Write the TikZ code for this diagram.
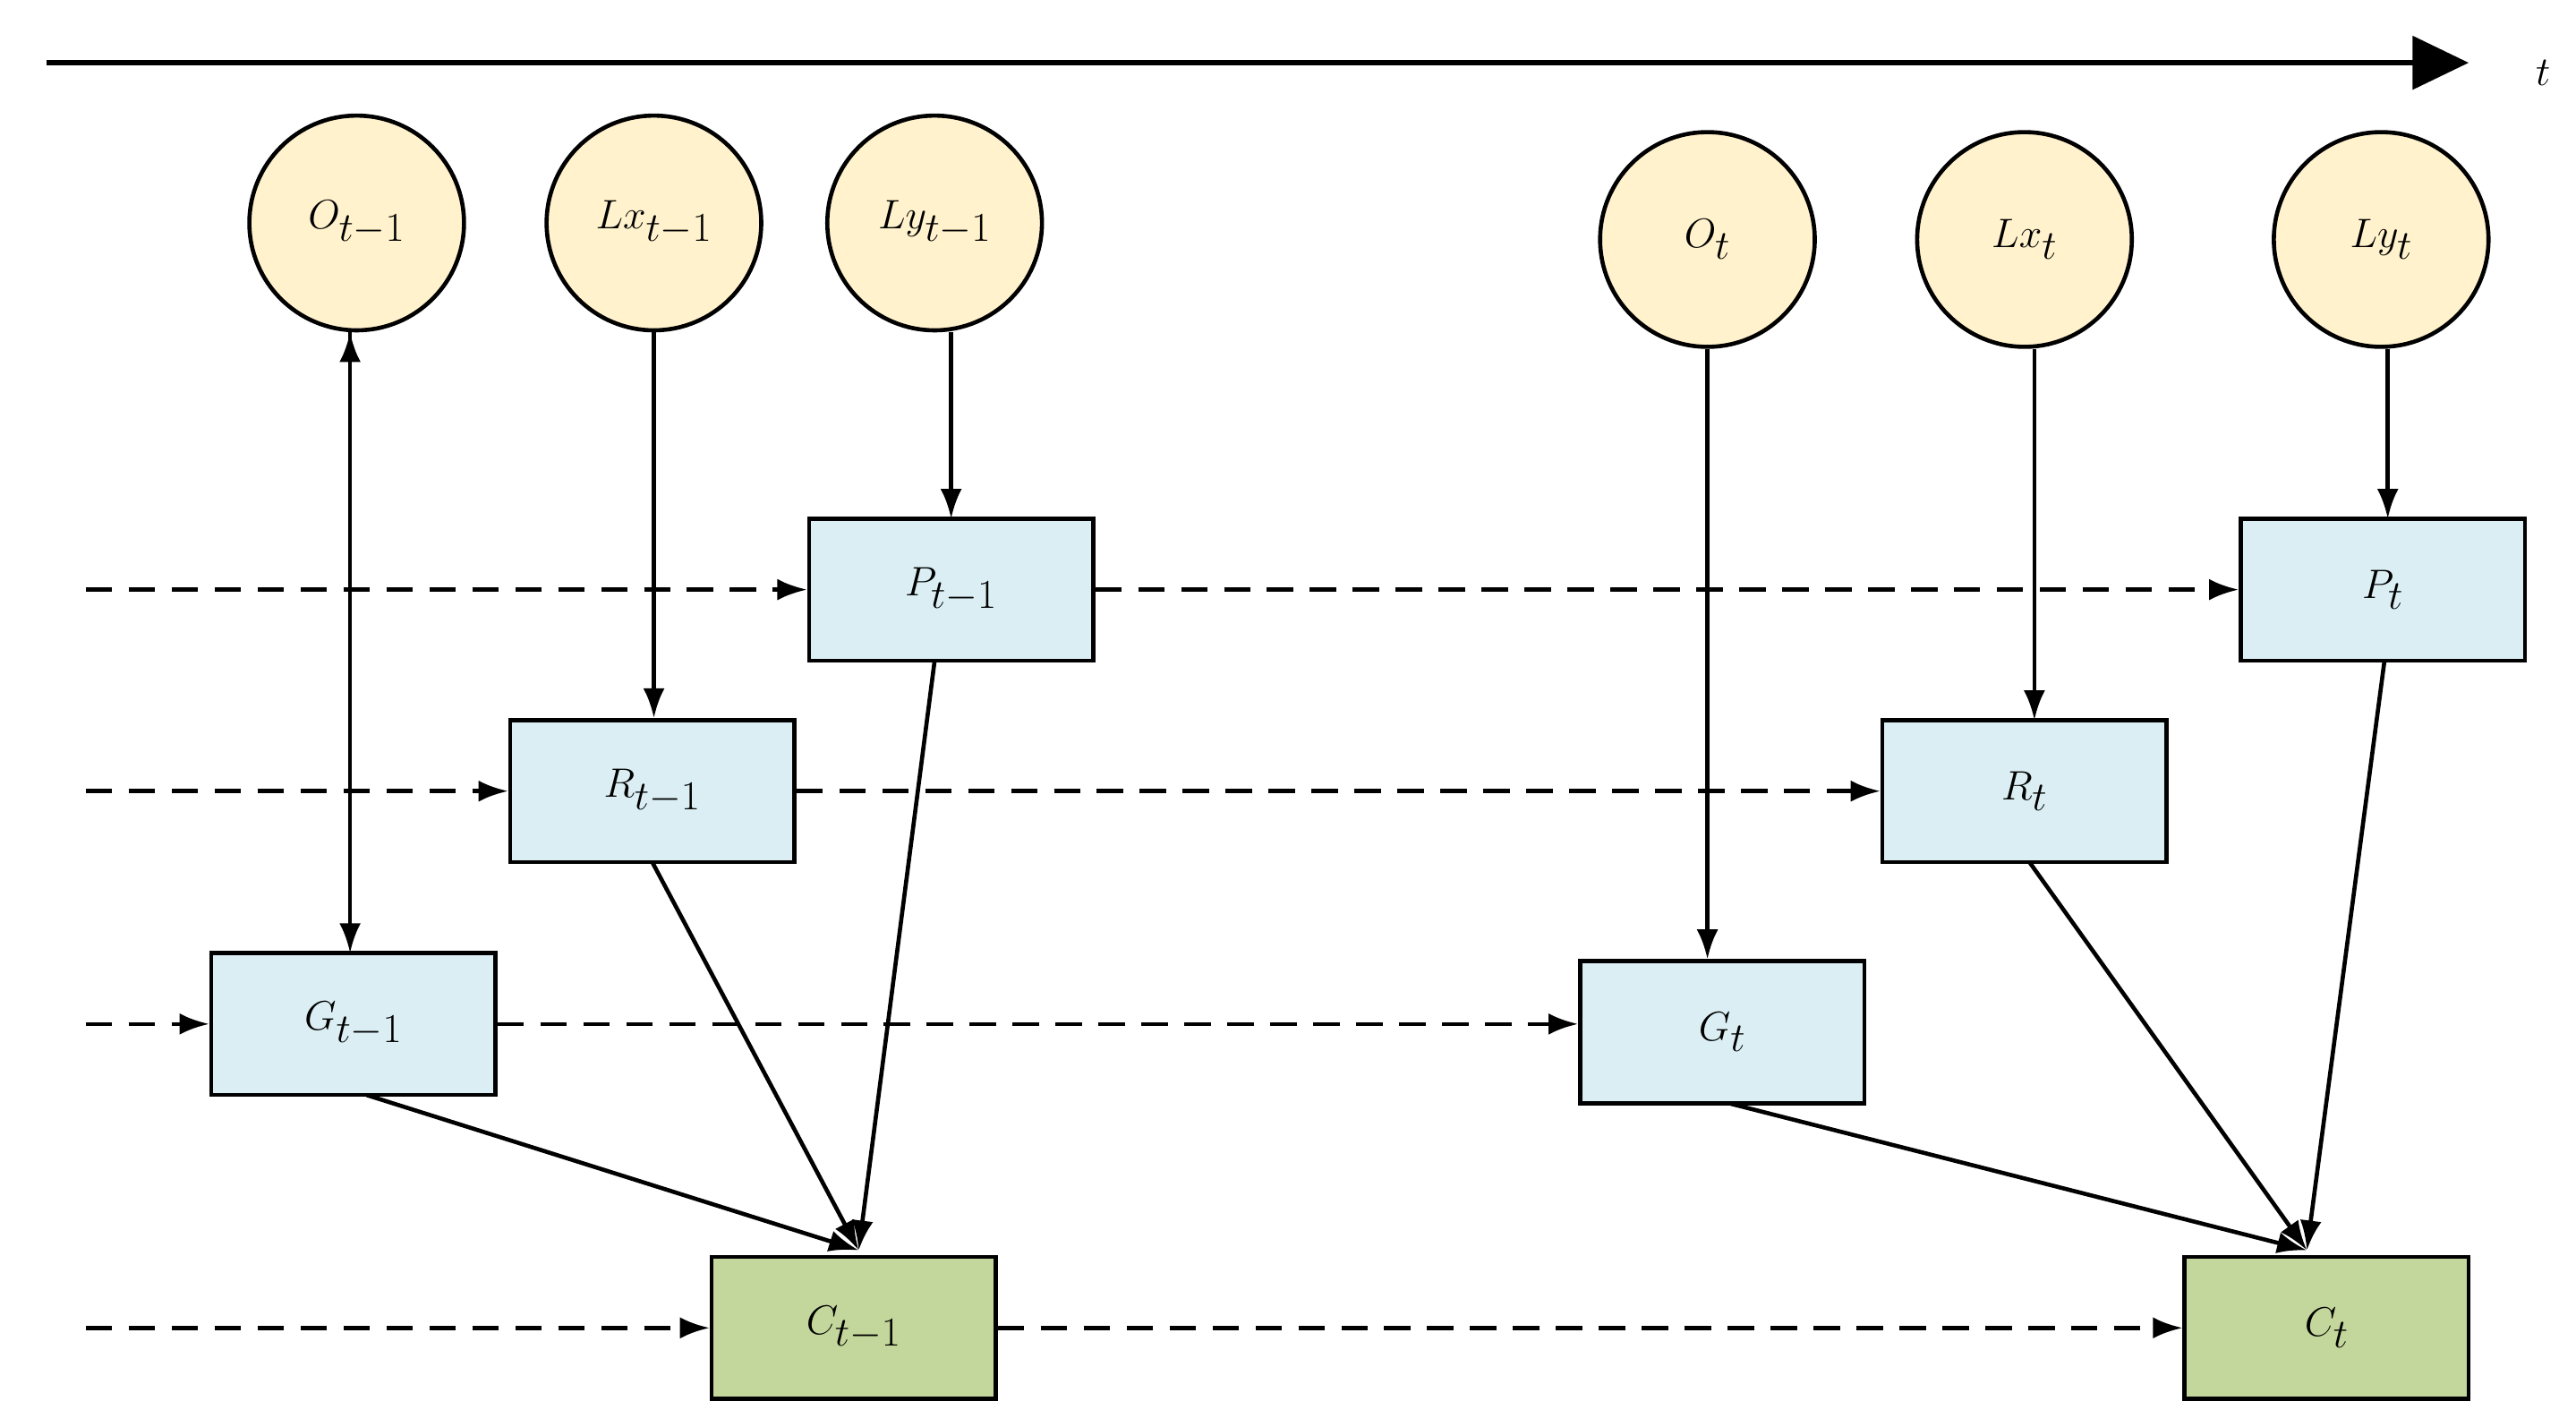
\documentclass[tikz,border=0pt]{standalone}
\usetikzlibrary{arrows.meta}
\begin{document}
\begin{tikzpicture}[x=1pt,y=-1pt,
  circ/.style={circle,draw=black,line width=2.5pt,fill=yellow!20!orange!15!white,minimum size=130pt,inner sep=0pt,font=\fontsize{42}{50}\selectfont},
  box/.style={rectangle,draw=black,line width=2.5pt,fill=cyan!12,minimum width=172pt,minimum height=86pt,inner sep=0pt,font=\fontsize{42}{50}\selectfont},
  gbox/.style={box,fill=green!45!olive!35!white},
  sol/.style={line width=2.5pt,-{Latex[length=18pt,width=13pt]}},
  dsh/.style={line width=2.5pt,dash pattern=on 16pt off 10pt,-{Latex[length=18pt,width=13pt]}}]
\useasboundingbox (0,0) rectangle (1560,864);
\coordinate (a0) at (28,38); \coordinate (a1) at (1495,38);
\draw[line width=3pt,-{Triangle[length=34pt,width=32pt]}] (a0) -- (a1);
\node[font=\fontsize{54}{60}\selectfont] (t) at (1540,44) {$t$};
\definecolor{cy}{HTML}{FFF2CC}\definecolor{bl}{HTML}{DAEEF3}\definecolor{gr}{HTML}{C3D69B}
\tikzset{circ/.append style={fill=cy},box/.append style={fill=bl},gbox/.append style={fill=gr}}
\node[circ] (O1) at (216,135) {$O_{t-1}$};
\node[circ] (X1) at (396,135) {$Lx_{t-1}$};
\node[circ] (Y1) at (566,135) {$Ly_{t-1}$};
\node[circ] (O2) at (1034,145) {$O_{t}$};
\node[circ] (X2) at (1226,145) {$Lx_{t}$};
\node[circ] (Y2) at (1442,145) {$Ly_{t}$};
\node[box] (P1) at (576,357) {$P_{t-1}$};
\node[box] (R1) at (395,479) {$R_{t-1}$};
\node[box] (G1) at (214,620) {$G_{t-1}$};
\node[gbox] (C1) at (517,804) {$C_{t-1}$};
\node[box] (P2) at (1443,357) {$P_{t}$};
\node[box] (R2) at (1226,479) {$R_{t}$};
\node[box] (G2) at (1043,625) {$G_{t}$};
\node[gbox] (C2) at (1409,804) {$C_{t}$};
\foreach \n/\y in {P/357,R/479,G/620,C/804}{\coordinate (s\n) at (52,\y);}
\draw[dsh] (sP) -- (P1.west); \draw[dsh] (sR) -- (R1.west);
\draw[dsh] (sG) -- (G1.west); \draw[dsh] (sC) -- (C1.west);
\draw[dsh] (P1.east) -- (P2.west); \draw[dsh] (R1.east) -- (R2.west);
\draw[dsh] (G1.east) -- (G2.west|-G1.east); \draw[dsh] (C1.east) -- (C2.west);
\draw[sol] (O1.south-|G1.north) ++(-2,0) coordinate (o1s) ;
\draw[sol] (212,200) -- (212,577);
\draw[sol] (X1.south) -- (X1.south|-R1.north);
\draw[sol] (Y1.south)++(10,0) -- (576,314);
\draw[sol] (O2.south) -- (O2.south|-G2.north);
\draw[sol] (X2.south)++(6,0) -- (1232,436);
\draw[sol] (Y2.south)++(4,0) -- (1446,314);
\coordinate (c1) at (520,757); \coordinate (c2) at (1397,757);
\draw[sol] (222,663) -- (c1);
\draw[sol] (395,522) -- (c1);
\draw[sol] (566,400) -- (c1);
\draw[sol] (1047,668) -- (c2);
\draw[sol] (1229,522) -- (c2);
\draw[sol] (1444,400) -- (c2);
\end{tikzpicture}
\end{document}
